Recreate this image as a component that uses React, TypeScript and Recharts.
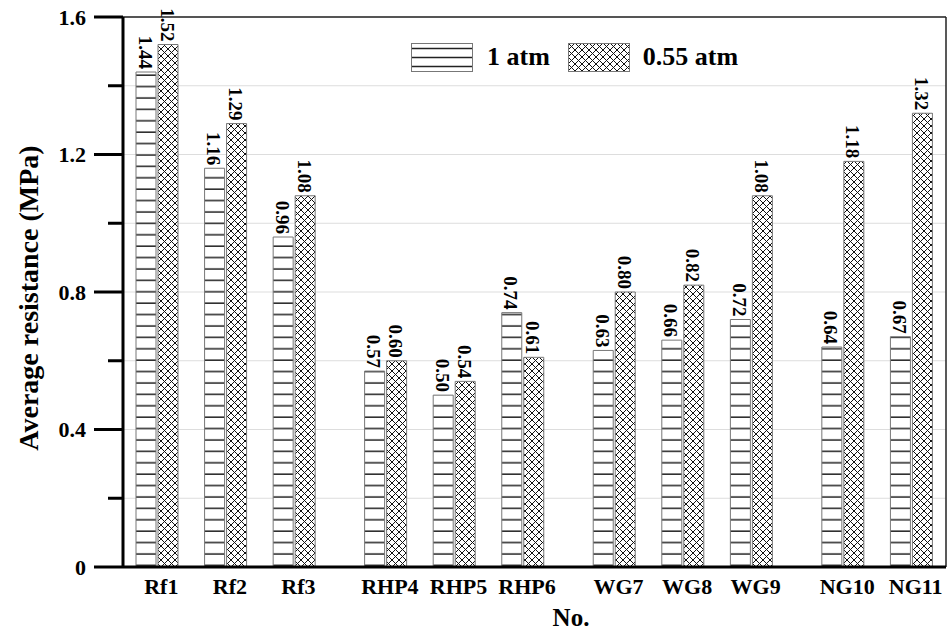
import React from 'react';
import { BarChart, Bar, XAxis, YAxis, CartesianGrid, LabelList, Legend, ReferenceLine, Label } from 'recharts';

const categories = ['Rf1', 'Rf2', 'Rf3', 'RHP4', 'RHP5', 'RHP6', 'WG7', 'WG8', 'WG9', 'NG10', 'NG11'];
const groupOf = [0, 0, 0, 1, 1, 1, 2, 2, 2, 3, 3];
const atm1 = [1.44, 1.16, 0.96, 0.57, 0.5, 0.74, 0.63, 0.66, 0.72, 0.64, 0.67];
const atm055 = [1.52, 1.29, 1.08, 0.6, 0.54, 0.61, 0.8, 0.82, 1.08, 1.18, 1.32];
const yTicks = [0, 0.2, 0.4, 0.6, 0.8, 1.0, 1.2, 1.4, 1.6];
const yLabeled = [0, 0.4, 0.8, 1.2, 1.6];
const seriesNames = ['1 atm', '0.55 atm'];

const GROUP_GAP = 1 / 3;
const FONT = '"Liberation Serif", "Times New Roman", serif';

const data = categories.map((name, i) => ({
  name,
  pos: i + groupOf[i] * GROUP_GAP,
  a1: atm1[i],
  a055: atm055[i],
}));
const xTicks = data.map((d) => d.pos);
const nameAt = (v: number) => {
  const d = data.find((e) => Math.abs(e.pos - v) < 1e-6);
  return d ? d.name : '';
};

const YTick = (props: any) => {
  const { x, y, payload } = props;
  const v = payload.value as number;
  const major = yLabeled.some((t) => Math.abs(t - v) < 1e-6);
  return (
    <g>
      <line x1={x - (major ? 29 : 15)} x2={x} y1={y} y2={y} stroke="#000" strokeWidth={3} />
      {major && (
        <text x={x - 37} y={y} textAnchor="end" dominantBaseline="central" fontFamily={FONT} fontWeight="bold" fontSize={22} fill="#000">
          {String(v)}
        </text>
      )}
    </g>
  );
};

const XTick = (props: any) => {
  const { x, y, payload } = props;
  return (
    <text x={x + 4} y={y + 9} textAnchor="middle" dominantBaseline="hanging" fontFamily={FONT} fontWeight="bold" fontSize={22} fill="#000">
      {nameAt(payload.value)}
    </text>
  );
};

const ValueLabel = (props: any) => {
  const { x, y, width, value } = props;
  const cx = x + width / 2 - 1;
  const ty = y - 3;
  return (
    <text
      x={cx}
      y={ty}
      transform={`rotate(90 ${cx} ${ty})`}
      textAnchor="end"
      dominantBaseline="central"
      fontFamily={FONT}
      fontWeight="bold"
      fontSize={19}
      fill="#000"
    >
      {Number(value).toFixed(2)}
    </text>
  );
};

const LegendContent = () => (
  <div style={{ display: 'flex', alignItems: 'center', fontFamily: FONT, fontWeight: 'bold', fontSize: 26, color: '#000', whiteSpace: 'nowrap' }}>
    <svg width={62} height={29} style={{ display: 'block' }}>
      <rect x={0.5} y={0.5} width={61} height={28} fill="#fff" stroke="#777" />
      <line x1={1} x2={61} y1={5.5} y2={5.5} stroke="#222" strokeWidth={1.5} />
      <line x1={1} x2={61} y1={14.5} y2={14.5} stroke="#222" strokeWidth={1.5} />
      <line x1={1} x2={61} y1={23.5} y2={23.5} stroke="#222" strokeWidth={1.5} />
    </svg>
    <span style={{ marginLeft: 14 }}>{seriesNames[0]}</span>
    <svg width={62} height={29} style={{ display: 'block', marginLeft: 18 }}>
      <defs>
        <pattern id="legendCross" patternUnits="userSpaceOnUse" width={7} height={7}>
          <rect width={7} height={7} fill="#fff" />
          <path d="M0,0 L7,7 M7,0 L0,7" stroke="#111" strokeWidth={1} />
        </pattern>
      </defs>
      <rect x={0.5} y={0.5} width={61} height={28} fill="url(#legendCross)" stroke="#777" />
    </svg>
    <span style={{ marginLeft: 13 }}>{seriesNames[1]}</span>
  </div>
);

export default function App() {
  return (
    <div style={{ position: 'absolute', left: 0, top: 0 }}>
      <BarChart
        width={948}
        height={631}
        data={data}
        margin={{ top: 17, right: 2, bottom: 0, left: 0 }}
        barGap={2}
        barSize={20}
      >
        <defs>
          <pattern id="hlines" patternUnits="userSpaceOnUse" width={10} height={11.4}>
            <rect width={10} height={11.4} fill="#fff" />
            <line x1={0} x2={10} y1={6.8} y2={6.8} stroke="#222" strokeWidth={1.5} />
          </pattern>
          <pattern id="cross" patternUnits="userSpaceOnUse" width={7} height={7}>
            <rect width={7} height={7} fill="#fff" />
            <path d="M0,0 L7,7 M7,0 L0,7" stroke="#111" strokeWidth={1} />
          </pattern>
        </defs>
        <CartesianGrid vertical={false} stroke="#dddddd" strokeWidth={1} />
        <XAxis
          dataKey="pos"
          type="number"
          domain={[-0.5, 11.5]}
          ticks={xTicks}
          interval={0}
          tick={<XTick />}
          tickLine={false}
          tickSize={0}
          axisLine={{ stroke: '#000', strokeWidth: 3 }}
          height={64}
        >
          <Label
            content={() => (
              <text x={571} y={617} textAnchor="middle" dominantBaseline="central" fontFamily={FONT} fontWeight="bold" fontSize={25} fill="#000">
                No.
              </text>
            )}
          />
        </XAxis>
        <YAxis
          type="number"
          domain={[0, 1.6]}
          ticks={yTicks}
          interval={0}
          width={123}
          tick={<YTick />}
          tickLine={false}
          tickSize={0}
          tickMargin={0}
          axisLine={{ stroke: '#000', strokeWidth: 3 }}
        >
          <Label
            content={() => (
              <text
                x={28}
                y={298}
                transform="rotate(-90 28 298)"
                textAnchor="middle"
                dominantBaseline="central"
                fontFamily={FONT}
                fontWeight="bold"
                fontSize={28}
                fill="#000"
              >
                Average resistance (MPa)
              </text>
            )}
          />
        </YAxis>
        <ReferenceLine y={1.6} stroke="#222" strokeWidth={1.5} />
        <ReferenceLine x={11.5} stroke="#222" strokeWidth={1.5} />
        <Legend
          layout="horizontal"
          verticalAlign="middle"
          align="center"
          content={<LegendContent />}
          wrapperStyle={{ left: 411, top: 42, width: 360, height: 29 }}
        />
        <Bar dataKey="a1" name={seriesNames[0]} fill="url(#hlines)" stroke="#777" strokeWidth={1} isAnimationActive={false}>
          <LabelList dataKey="a1" content={<ValueLabel />} />
        </Bar>
        <Bar dataKey="a055" name={seriesNames[1]} fill="url(#cross)" stroke="#777" strokeWidth={1} isAnimationActive={false}>
          <LabelList dataKey="a055" content={<ValueLabel />} />
        </Bar>
      </BarChart>
    </div>
  );
}
